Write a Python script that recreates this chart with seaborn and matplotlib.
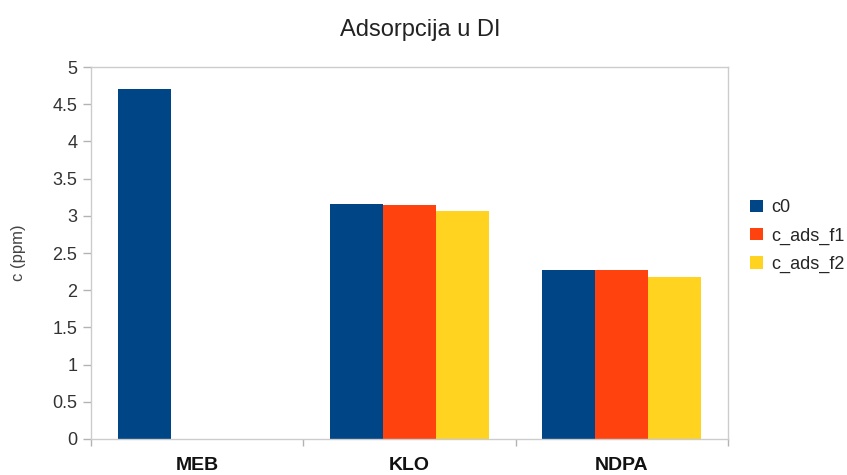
import pandas as pd
import numpy as np
import seaborn as sns
import matplotlib.pyplot as plt
from matplotlib.patches import Patch

# Podaci očitani s grafa
kategorije = ['MEB', 'KLO', 'NDPA']
serije = ['c0', 'c_ads_f1', 'c_ads_f2']
c0 = [4.71, 3.16, 2.27]
c_ads_f1 = [np.nan, 3.15, 2.27]
c_ads_f2 = [np.nan, 3.07, 2.18]
boje = {'c0': '#004586', 'c_ads_f1': '#ff420e', 'c_ads_f2': '#ffd320'}

df = pd.DataFrame({
    'uzorak': kategorije * 3,
    'serija': ['c0'] * 3 + ['c_ads_f1'] * 3 + ['c_ads_f2'] * 3,
    'c': c0 + c_ads_f1 + c_ads_f2,
}).dropna()

sns.set_theme(style="white")
plt.rcParams['font.family'] = ['Liberation Sans', 'DejaVu Sans']

fig = plt.figure(figsize=(8.47, 4.75), dpi=100)
ax = fig.add_axes([0.1075, 0.0758, 0.752, 0.783])

sns.barplot(
    data=df, x='uzorak', y='c', hue='serija',
    order=kategorije, hue_order=serije, palette=boje, saturation=1,
    width=0.75, linewidth=0, ax=ax, legend=False,
)

ax.set_xlim(-0.5, 2.5)
ax.set_ylim(0, 5)
ax.set_yticks(np.arange(0, 5.01, 0.5))
ax.set_yticklabels([f'{v:g}' for v in np.arange(0, 5.01, 0.5)], fontsize=13, color='#333333')
ax.set_xticks(range(3))
ax.set_xticklabels(kategorije, fontsize=14, fontweight='bold', color='#111111')
ax.set_xticks([-0.5, 0.5, 1.5, 2.5], minor=True)
ax.tick_params(axis='x', which='major', length=0, pad=13)
ax.tick_params(axis='x', which='minor', length=5, color='#b3b3b3', width=1, bottom=True)
ax.tick_params(axis='y', length=6, color='#b3b3b3', width=1, left=True, pad=4)

for s in ax.spines.values():
    s.set_color('#cccccc')
    s.set_linewidth(1)

ax.set_xlabel('')
ax.set_ylabel('c (ppm)', fontsize=12, color='#444444', labelpad=19)
fig.text(0.496, 0.937, 'Adsorpcija u DI', ha='center', va='center', fontsize=17, color='#222222')

ruke = [Patch(facecolor=boje[s], edgecolor='none', label=s) for s in serije]
fig.legend(handles=ruke, loc='center left', bbox_to_anchor=(0.877, 0.503),
           frameon=False, fontsize=13, handlelength=0.7, handleheight=0.7,
           handletextpad=0.45, labelspacing=0.62, borderaxespad=0)

plt.savefig('out.png', dpi=100)
